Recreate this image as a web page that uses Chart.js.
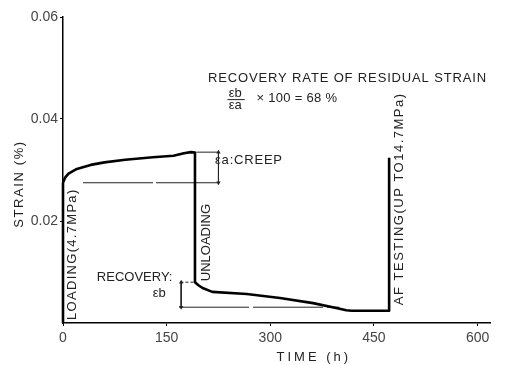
<!DOCTYPE html>
<html>
<head>
<meta charset="utf-8">
<script src="https://cdn.jsdelivr.net/npm/chart.js@4.4.0/dist/chart.umd.min.js"></script>
<style>
  html, body { margin: 0; padding: 0; background: #fff; }
  #wrap { width: 505px; height: 365px; }
</style>
</head>
<body>
<div id="wrap"><canvas id="myChart" width="505" height="365"></canvas></div>
<script>
// strain history (time in h, strain in %)
const timeH =     [0, 0,      3,      8,      20,     40,     60,     90,     130,    160,    175,    185,    191,    191,    196,    203,    216,    266,    314,    362,    397,    410,    418,    472,    472]
const strainPct = [0, 0.0275, 0.0285, 0.0293, 0.0302, 0.0310, 0.0315, 0.0320, 0.0325, 0.0328, 0.0333, 0.0335, 0.0334, 0.0080, 0.0074, 0.0068, 0.0061, 0.0057, 0.0049, 0.0039, 0.0029, 0.0025, 0.0024, 0.0024, 0.0324]

const xTicks = [0, 150, 300, 450, 600]
const yTicks = [0.02, 0.04, 0.06]

// thin guide lines of the ea / eb dimensions, [time, strain]
const creepBase = [[29, 0.0275], [226, 0.0275]]
const creepTop = [[193, 0.0335], [226, 0.0335]]
const creepDim = [[225, 0.0335], [225, 0.0275]]
const recoveryTop = [[170, 0.0080], [191, 0.0080]]
const recoveryDim = [[171, 0.0080], [171, 0.0031]]
const recoveryBase = [[168, 0.0031], [400, 0.0031]]

// text labels placed in data coordinates
const notes = [
    { text: 'RECOVERY RATE OF RESIDUAL STRAIN', t: 210, s: 0.0480, sp: 0.85 },
    { text: 'εb', t: 240, s: 0.0450, sp: 0 },
    { text: 'εa', t: 240, s: 0.0426, sp: 0 },
    { text: '× 100 = 68 %', t: 280, s: 0.0441, sp: 0.3 },
    { text: 'εa:CREEP', t: 220, s: 0.0318, sp: 0.8 },
    { text: 'RECOVERY:', t: 49, s: 0.0090, sp: 0 },
    { text: 'εb', t: 130, s: 0.0058, sp: 0 },
    { text: 'LOADING(4.7MPa)', t: 13, s: 0.0006, sp: 1.3, rot: true },
    { text: 'UNLOADING', t: 208, s: 0.0082, sp: 0, rot: true },
    { text: 'AF TESTING(UP TO14.7MPa)', t: 487, s: 0.0035, sp: 1.5, rot: true }
]

const FONT = '"Liberation Sans", Arial, sans-serif'

function guide(points, dash, arrows) {
    return {
        data: points.map(p => ({ x: p[0], y: p[1] })),
        borderColor: '#222',
        borderWidth: 1,
        borderDash: dash || [],
        pointRadius: arrows ? 2.5 : 0,
        pointStyle: 'triangle',
        pointRotation: [0, 180],
        pointBackgroundColor: '#222',
        pointBorderWidth: 0,
        tension: 0
    }
}

const notesPlugin = {
    id: 'notes',
    afterDatasetsDraw(chart) {
        const ctx = chart.ctx
        const xs = chart.scales.x
        const ys = chart.scales.y
        const area = chart.chartArea
        ctx.save()
        ctx.fillStyle = '#222'
        ctx.font = '13px ' + FONT
        ctx.textBaseline = 'middle'
        ctx.textAlign = 'left'
        notes.forEach(n => {
            ctx.save()
            ctx.translate(xs.getPixelForValue(n.t), ys.getPixelForValue(n.s))
            if (n.rot) ctx.rotate(-Math.PI / 2)
            ctx.letterSpacing = n.sp + 'px'
            ctx.fillText(n.text, 0, 0)
            ctx.restore()
        })
        // fraction bar of eb / ea
        ctx.strokeStyle = '#222'
        ctx.lineWidth = 1
        ctx.beginPath()
        ctx.moveTo(xs.getPixelForValue(238), ys.getPixelForValue(0.0438))
        ctx.lineTo(xs.getPixelForValue(263), ys.getPixelForValue(0.0438))
        ctx.stroke()

        // axis titles
        ctx.letterSpacing = '1.6px'
        ctx.save()
        ctx.translate(area.left - 44, area.top + 167)
        ctx.rotate(-Math.PI / 2)
        ctx.textAlign = 'center'
        ctx.fillText('STRAIN (%)', 0, 0)
        ctx.restore()
        ctx.letterSpacing = '3px'
        ctx.textAlign = 'center'
        ctx.fillText('TIME (h)', xs.getPixelForValue(363), area.bottom + 34)
        ctx.restore()
    }
}

let myChart = new Chart(document.getElementById('myChart'), {
    type: 'line',
    data: {
        datasets: [
            {
                data: timeH.map((t, i) => ({ x: t, y: strainPct[i] })),
                borderColor: '#000',
                borderWidth: 2.6,
                borderJoinStyle: 'round',
                pointRadius: 0,
                tension: 0,
                clip: false
            },
            guide(creepBase, [70, 3]),
            guide(creepTop),
            guide(creepDim, null, true),
            guide(recoveryTop, [3, 2]),
            guide(recoveryDim, null, true),
            guide(recoveryBase, [70, 4])
        ]
    },
    options: {
        responsive: false,
        animation: false,
        layout: { padding: { top: 17, right: 15, left: 0, bottom: 0 } },
        plugins: { legend: { display: false }, tooltip: { enabled: false } },
        scales: {
            x: {
                type: 'linear',
                min: 0,
                max: 618,
                afterFit: s => { s.height = 42 },
                afterBuildTicks: s => { s.ticks = xTicks.map(v => ({ value: v })) },
                ticks: { font: { family: FONT, size: 14 }, color: '#444', padding: 4, maxRotation: 0, autoSkip: false },
                grid: { drawOnChartArea: false, tickLength: 3, color: '#000' },
                border: { color: '#000', width: 1.5 }
            },
            y: {
                min: 0,
                max: 0.06,
                afterFit: s => { s.width = 63 },
                afterBuildTicks: s => { s.ticks = yTicks.map(v => ({ value: v })) },
                ticks: { font: { family: FONT, size: 14 }, color: '#444', padding: 2, callback: v => v.toFixed(2) },
                grid: { drawOnChartArea: false, tickLength: 3, color: '#000' },
                border: { color: '#000', width: 1.5 }
            }
        }
    },
    plugins: [notesPlugin]
})
</script>
</body>
</html>
